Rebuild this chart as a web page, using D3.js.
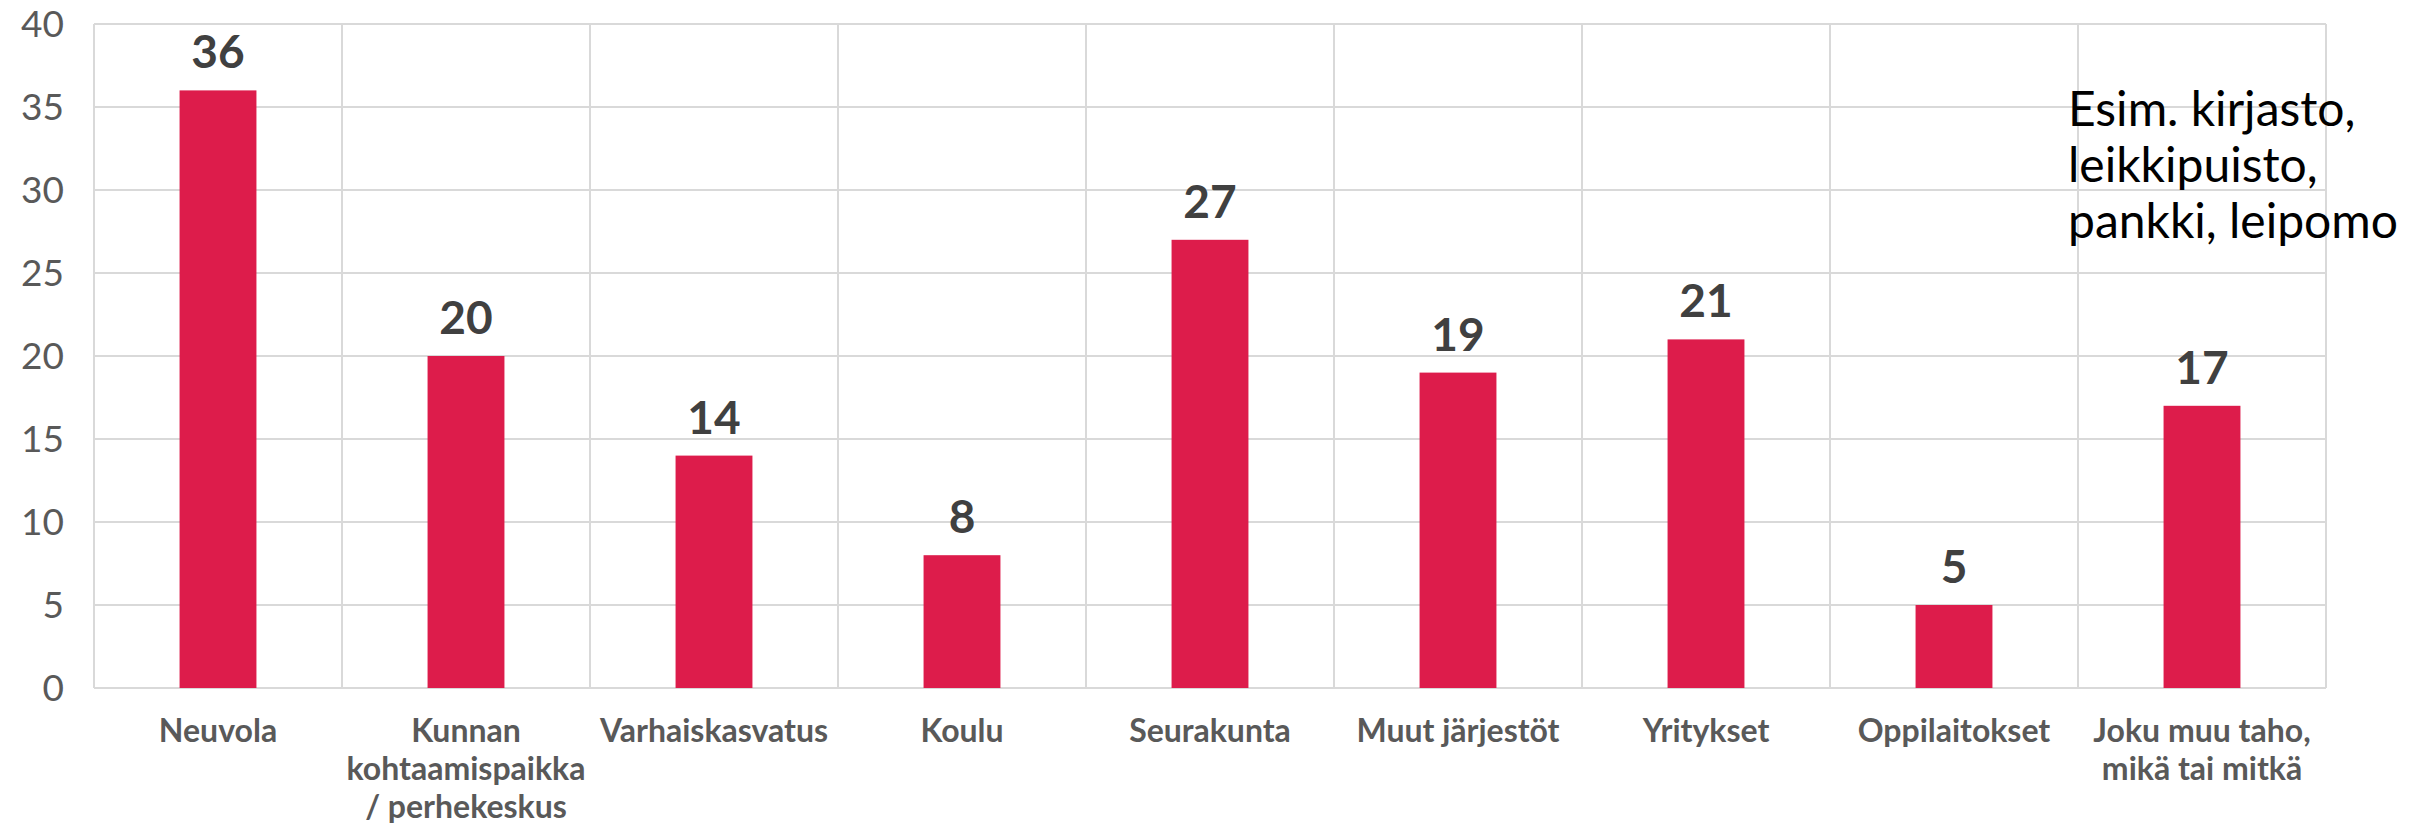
<!DOCTYPE html>
<html>
<head>
<meta charset="utf-8">
<script src="https://cdn.jsdelivr.net/npm/d3@7"></script>
<style>
  body { margin: 0; background: #fff; }
  svg { display: block; font-family: Lato, sans-serif; }
  .grid line { stroke: #d9d9d9; stroke-width: 2; }
  .ytick { fill: #595959; font-size: 37px; }
  .xlabel { fill: #595959; font-size: 32px; font-weight: bold; }
  .value { fill: #404040; font-size: 46px; font-weight: bold; }
  .note { fill: #000; font-size: 48px; }
</style>
</head>
<body>
<script>
const categories = [
  'Neuvola',
  'Kunnan\nkohtaamispaikka\n/ perhekeskus',
  'Varhaiskasvatus',
  'Koulu',
  'Seurakunta',
  'Muut järjestöt',
  'Yritykset',
  'Oppilaitokset',
  'Joku muu taho,\nmikä tai mitkä'
]
const values = [36, 20, 14, 8, 27, 19, 21, 5, 17]
const yTicks = [0, 5, 10, 15, 20, 25, 30, 35, 40]
const noteLines = ['Esim. kirjasto,', 'leikkipuisto,', 'pankki, leipomo']

const width = 2419
const height = 825
const plotLeft = 94
const plotRight = 2326
const plotTop = 24
const plotBottom = 688

const svg = d3.select('body')
  .append('svg')
  .attr('width', width)
  .attr('height', height)

// one cell per category, bars sit in the middle of each cell
const cell = d3.scaleBand()
  .domain(categories)
  .range([plotLeft, plotRight])
  .padding(0)

const x = d3.scaleBand()
  .domain(categories)
  .range([plotLeft, plotRight])
  .paddingInner(0.69)
  .paddingOuter(0.345)

const y = d3.scaleLinear()
  .domain([0, 40])
  .range([plotBottom, plotTop])

const grid = svg.append('g').attr('class', 'grid')

grid.selectAll('line.h')
  .data(yTicks)
  .enter()
  .append('line')
  .attr('class', 'h')
  .attr('x1', plotLeft)
  .attr('x2', plotRight)
  .attr('y1', d => y(d))
  .attr('y2', d => y(d))

grid.selectAll('line.v')
  .data(categories.concat([null]))
  .enter()
  .append('line')
  .attr('class', 'v')
  .attr('x1', d => d === null ? plotRight : cell(d))
  .attr('x2', d => d === null ? plotRight : cell(d))
  .attr('y1', plotTop)
  .attr('y2', plotBottom)

svg.append('g')
  .selectAll('text')
  .data(yTicks)
  .enter()
  .append('text')
  .attr('class', 'ytick')
  .attr('x', plotLeft - 30)
  .attr('y', d => y(d) + 13)
  .attr('text-anchor', 'end')
  .text(d => d)

svg.append('g')
  .selectAll('rect')
  .data(values)
  .enter()
  .append('rect')
  .attr('x', (d, i) => x(categories[i]))
  .attr('width', x.bandwidth())
  .attr('y', d => y(d))
  .attr('height', d => y(0) - y(d))
  .attr('fill', '#dd1c4b')

svg.append('g')
  .selectAll('text')
  .data(values)
  .enter()
  .append('text')
  .attr('class', 'value')
  .attr('x', (d, i) => x(categories[i]) + x.bandwidth() / 2)
  .attr('y', d => y(d) - 22)
  .attr('text-anchor', 'middle')
  .text(d => d)

const xl = svg.append('g')
  .selectAll('text')
  .data(categories)
  .enter()
  .append('text')
  .attr('class', 'xlabel')
  .attr('text-anchor', 'middle')
  .attr('x', d => cell(d) + cell.bandwidth() / 2)
  .attr('y', 742)

xl.selectAll('tspan')
  .data(d => d.split('\n'))
  .enter()
  .append('tspan')
  .attr('x', function () { return d3.select(this.parentNode).attr('x') })
  .attr('dy', (d, i) => i === 0 ? 0 : 38)
  .text(d => d)

svg.append('text')
  .attr('class', 'note')
  .attr('x', 2068)
  .attr('y', 126)
  .selectAll('tspan')
  .data(noteLines)
  .enter()
  .append('tspan')
  .attr('x', 2068)
  .attr('dy', (d, i) => i === 0 ? 0 : 56)
  .text(d => d)
</script>
</body>
</html>
